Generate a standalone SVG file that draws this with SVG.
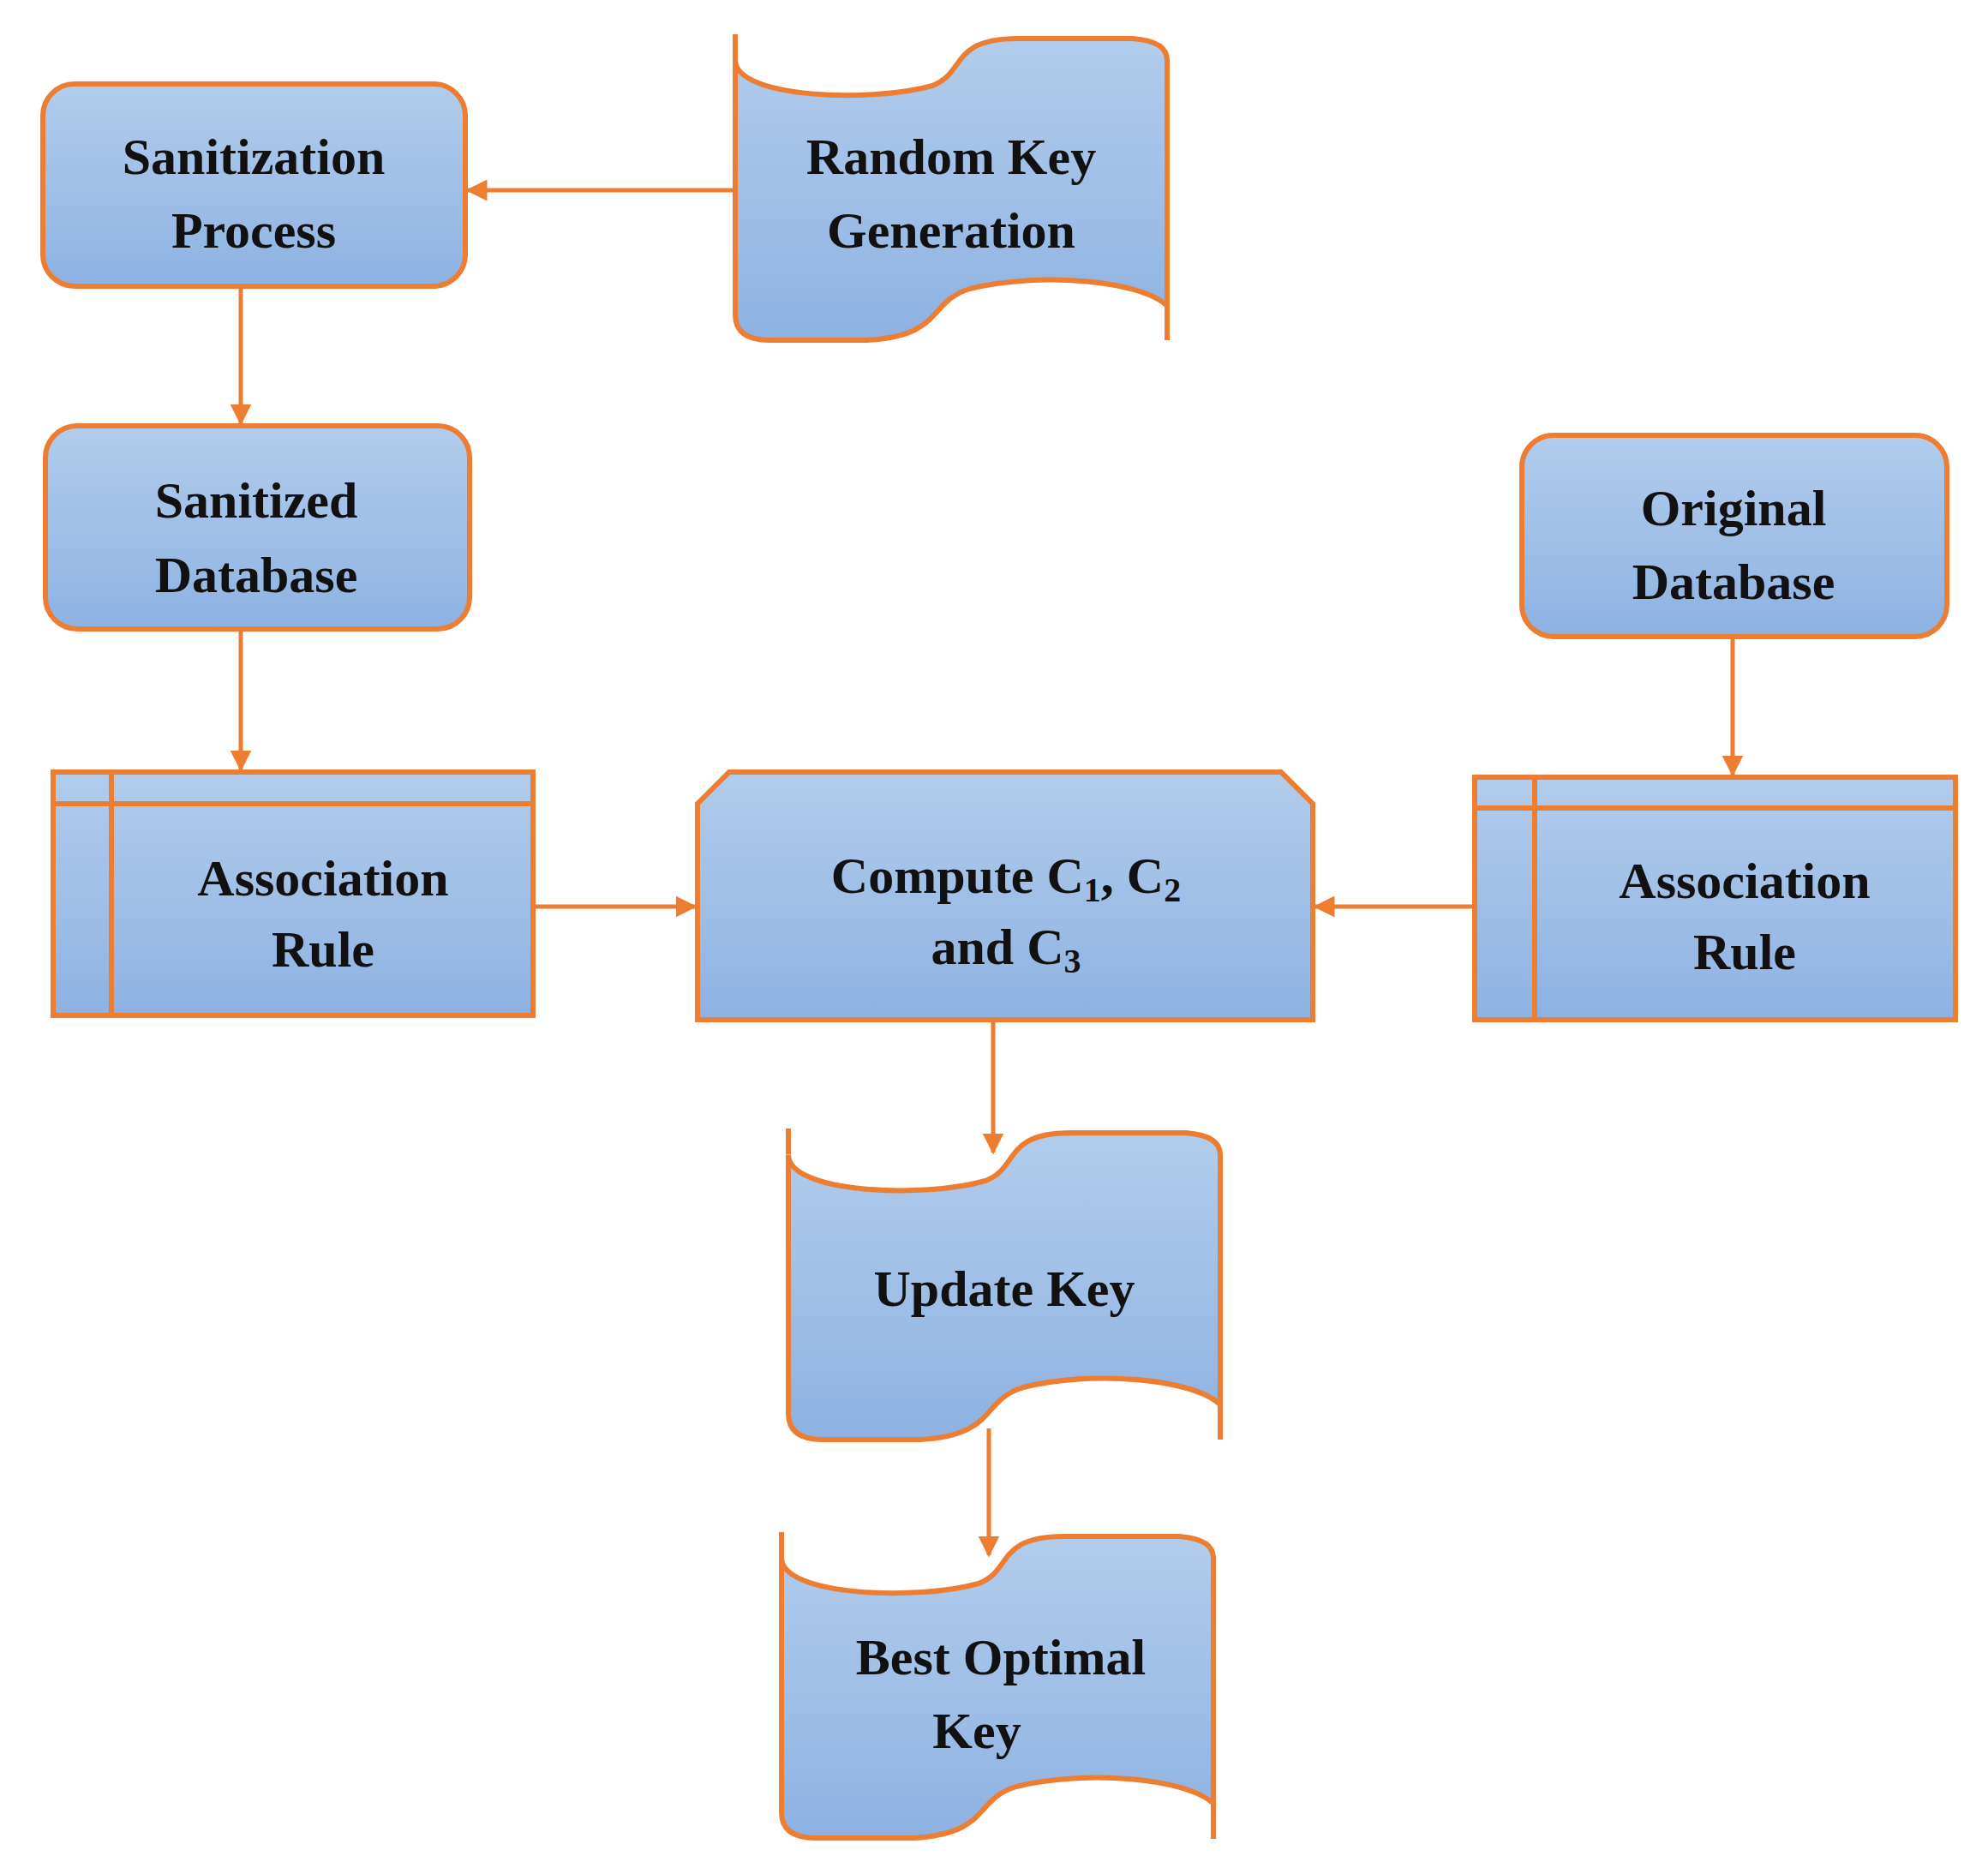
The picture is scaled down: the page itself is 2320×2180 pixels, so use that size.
<svg xmlns="http://www.w3.org/2000/svg" width="2320" height="2180" viewBox="0 0 2320 2180">
<defs>
<linearGradient id="g" x1="0" y1="0" x2="0" y2="1"><stop offset="0" stop-color="#b2cdec"/><stop offset="1" stop-color="#8db2e2"/></linearGradient>
<marker id="a" viewBox="0 0 10 10" refX="9" refY="5" markerWidth="5" markerHeight="5" orient="auto"><path d="M0,0 L10,5 L0,10 Z" fill="#ed7d31"/></marker>
<path id="tape" d="M0,30 C0,75 160,80 230,60 C270,45 250,5 330,5 L464,5 Q504,8 504,30 L504,317 C474,287 354,277 274,297 C224,312 244,352 154,357 L40,357 Q0,357 0,327 Z"/>
</defs>
<style>
.n{fill:url(#g);stroke:#ed7d31;stroke-width:6}
.l{fill:none;stroke:#ed7d31;stroke-width:6}
.c{fill:none;stroke:#ed7d31;stroke-width:5;marker-end:url(#a)}
text{font-family:"Liberation Serif",serif;font-weight:bold;font-size:60px;text-anchor:middle;fill:#111}
.s{font-size:40px}
</style>
<rect width="2320" height="2180" fill="#fff"/>
<g id="sanitization"><rect class="n" x="50" y="98" width="493" height="236" rx="37"/><text x="296" y="203">Sanitization</text><text x="296" y="289">Process</text></g>
<g id="randomkey"><use href="#tape" class="n" transform="translate(858,40)"/><path class="l" d="M858,40 V70 M1362,357 V397"/><text x="1110" y="203">Random Key</text><text x="1110" y="289">Generation</text></g>
<g id="sanitized"><rect class="n" x="53" y="497" width="495" height="237" rx="37"/><text x="299" y="604">Sanitized</text><text x="299" y="691">Database</text></g>
<g id="original"><rect class="n" x="1776" y="508" width="496" height="235" rx="37"/><text x="2023" y="613">Original</text><text x="2023" y="699">Database</text></g>
<g id="assocL"><rect class="n" x="62" y="901" width="560" height="284"/><path class="l" d="M130,901 V1185 M62,938 H622"/><text x="377" y="1045">Association</text><text x="377" y="1128">Rule</text></g>
<g id="compute"><path class="n" d="M851,901 H1495 L1532,938 V1190 H814 V938 Z"/><text x="1174" y="1042">Compute C<tspan class="s" dy="10">1</tspan><tspan dy="-10">, C</tspan><tspan class="s" dy="10">2</tspan></text><text x="1174" y="1125">and C<tspan class="s" dy="10">3</tspan></text></g>
<g id="assocR"><rect class="n" x="1721" y="907" width="561" height="283"/><path class="l" d="M1791,907 V1190 M1721,943 H2282"/><text x="2036" y="1048">Association</text><text x="2036" y="1131">Rule</text></g>
<g id="update"><use href="#tape" class="n" transform="translate(920,1317) scale(1.0,1.017)"/><path class="l" d="M920,1317 V1347 M1424,1640 V1680"/><text x="1172" y="1524">Update Key</text></g>
<g id="best"><use href="#tape" class="n" transform="translate(912,1788)"/><path class="l" d="M912,1788 V1818 M1416,2105 V2146"/><text x="1168" y="1954">Best Optimal</text><text x="1140" y="2040">Key</text></g>
<g id="connectors">
<path class="c" d="M858,222 H546"/>
<path class="c" d="M281,334 V494"/>
<path class="c" d="M281,734 V898"/>
<path class="c" d="M2022,743 V904"/>
<path class="c" d="M622,1058 H811"/>
<path class="c" d="M1721,1058 H1535"/>
<path class="c" d="M1159,1190 V1345"/>
<path class="c" d="M1154,1667 V1815"/>
</g>
</svg>
